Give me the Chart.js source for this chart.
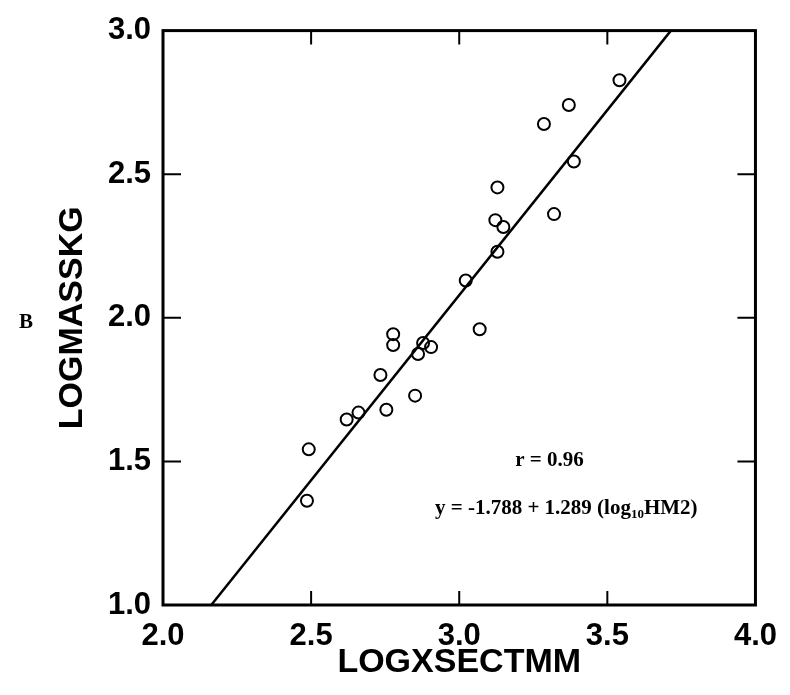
<!DOCTYPE html>
<html>
<head>
<meta charset="utf-8">
<script src="https://cdn.jsdelivr.net/npm/chart.js@4.4.1/dist/chart.umd.min.js"></script>
<style>
  html, body { margin: 0; padding: 0; background: #fff; }
  canvas { display: block; }
</style>
</head>
<body>
<canvas id="massChart" width="790" height="695"></canvas>
<script>
// data
var logXsect = [2.486, 2.492, 2.620, 2.660, 2.754, 2.734, 2.777, 2.777, 2.851, 2.861, 2.878, 2.905,
                3.069, 3.022, 3.129, 3.122, 3.149, 3.129, 3.320, 3.387, 3.286, 3.370, 3.541];
var logMass  = [1.363, 1.542, 1.646, 1.670, 1.680, 1.801, 1.943, 1.905, 1.729, 1.874, 1.912, 1.898,
                1.960, 2.130, 2.230, 2.340, 2.316, 2.454, 2.361, 2.544, 2.675, 2.741, 2.827];
var xTicks = [2.0, 2.5, 3.0, 3.5, 4.0];
var yTicks = [1.0, 1.5, 2.0, 2.5, 3.0];
var intercept = -1.788;
var slope = 1.289;

var points = logXsect.map(function (x, i) { return { x: x, y: logMass[i] }; });
// fit line drawn across the y range
var fitLine = [
    { x: (1.0 - intercept) / slope, y: 1.0 },
    { x: (3.0 - intercept) / slope, y: 3.0 }
];

var FONT = "'Liberation Sans', Arial, sans-serif";
var SERIF = "'Liberation Serif', 'Times New Roman', serif";

// frame, inward ticks and annotations
var framePlugin = {
    id: 'frame',
    afterDatasetsDraw: function (chart) {
        var c = chart.ctx, a = chart.chartArea;
        var xs = chart.scales.x, ys = chart.scales.y;
        c.save();
        c.strokeStyle = '#000';
        c.lineWidth = 3;
        c.strokeRect(a.left, a.top, a.right - a.left, a.bottom - a.top);
        c.lineWidth = 2;
        xTicks.slice(1, -1).forEach(function (v) {
            var px = xs.getPixelForValue(v);
            c.beginPath();
            c.moveTo(px, a.bottom); c.lineTo(px, a.bottom - 14);
            c.moveTo(px, a.top); c.lineTo(px, a.top + 14);
            c.stroke();
        });
        yTicks.slice(1, -1).forEach(function (v) {
            var py = ys.getPixelForValue(v);
            c.beginPath();
            c.moveTo(a.left, py); c.lineTo(a.left + 18, py);
            c.moveTo(a.right, py); c.lineTo(a.right - 18, py);
            c.stroke();
        });

        c.fillStyle = '#000';
        c.textBaseline = 'alphabetic';
        c.textAlign = 'left';
        c.font = 'bold 21px ' + SERIF;
        c.fillText('r = 0.96', xs.getPixelForValue(3.189), ys.getPixelForValue(1.484));

        var ex = xs.getPixelForValue(2.918), ey = ys.getPixelForValue(1.318);
        var s1 = 'y = -1.788 + 1.289 (log';
        c.fillText(s1, ex, ey);
        ex += c.measureText(s1).width;
        c.font = 'bold 13px ' + SERIF;
        c.fillText('10', ex, ey + 4);
        ex += c.measureText('10').width;
        c.font = 'bold 21px ' + SERIF;
        c.fillText('HM2)', ex, ey);

        c.font = 'bold 21px ' + SERIF;
        c.fillText('B', 19, ys.getPixelForValue(1.965));
        c.restore();
    }
};

var ctx = document.getElementById('massChart').getContext('2d');

var massChart = new Chart(ctx, {
    type: 'scatter',
    data: {
        datasets: [{
            label: 'points',
            data: points,
            showLine: false,
            pointStyle: 'circle',
            pointRadius: 6,
            pointBorderWidth: 2,
            pointBorderColor: '#000',
            pointBackgroundColor: 'rgba(0,0,0,0)'
        }, {
            label: 'fit',
            data: fitLine,
            showLine: true,
            borderColor: '#000',
            borderWidth: 2.5,
            pointRadius: 0
        }]
    },
    options: {
        responsive: false,
        animation: false,
        layout: { padding: { top: 26, right: 29, left: 0, bottom: 0 } },
        plugins: {
            legend: { display: false },
            tooltip: { enabled: false }
        },
        scales: {
            x: {
                type: 'linear',
                min: 2, max: 4,
                afterBuildTicks: function (s) { s.ticks = xTicks.map(function (v) { return { value: v }; }); },
                afterFit: function (s) { s.height = 90; },
                grid: { display: false, drawTicks: false },
                border: { display: false },
                ticks: {
                    color: '#000',
                    padding: 13,
                    font: { family: FONT, size: 31, weight: 'bold' },
                    callback: function (v) { return v.toFixed(1); }
                },
                title: {
                    display: true,
                    text: 'LOGXSECTMM',
                    color: '#000',
                    padding: { top: 0, bottom: 12 },
                    font: { family: FONT, size: 34, weight: 'bold' }
                }
            },
            y: {
                type: 'linear',
                min: 1, max: 3,
                afterBuildTicks: function (s) { s.ticks = yTicks.map(function (v) { return { value: v }; }); },
                afterFit: function (s) { s.width = 163; },
                grid: { display: false, drawTicks: false },
                border: { display: false },
                ticks: {
                    color: '#000',
                    padding: 12,
                    font: { family: FONT, size: 31, weight: 'bold' },
                    callback: function (v) { return v.toFixed(1); }
                },
                title: {
                    display: true,
                    text: 'LOGMASSKG',
                    color: '#000',
                    padding: { top: 52, bottom: 0 },
                    font: { family: FONT, size: 34, weight: 'bold' }
                }
            }
        }
    },
    plugins: [framePlugin]
});
</script>
</body>
</html>
